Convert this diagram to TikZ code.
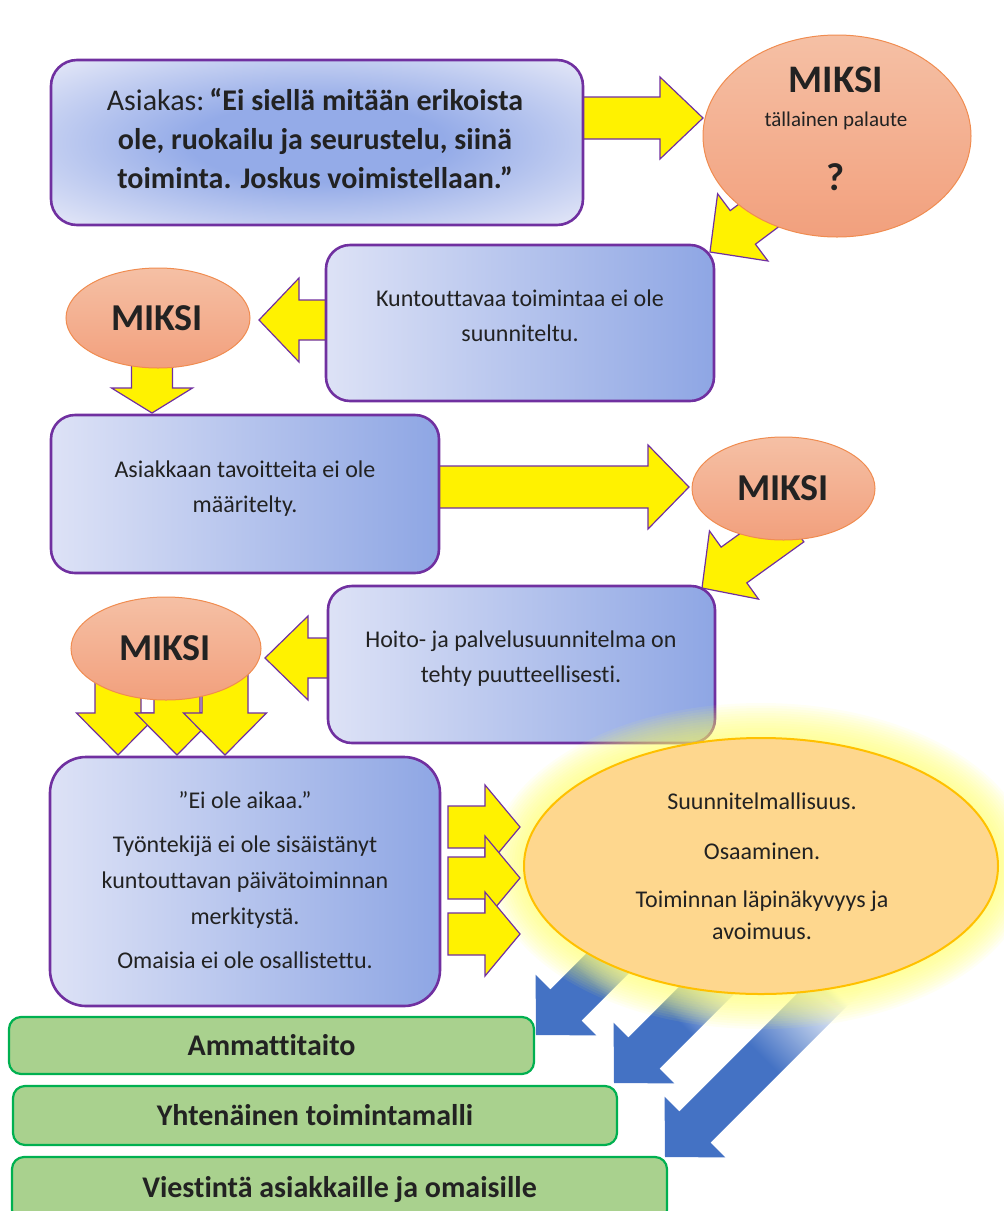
\documentclass[tikz,border=0pt]{standalone}
\usepackage{fontspec}
\setmainfont[Ligatures=NoCommon]{Carlito}
\usetikzlibrary{calc,shapes.geometric}

\definecolor{boxpurple}{HTML}{7030A0}
\definecolor{boxlight}{HTML}{DDE2F6}
\definecolor{boxdark}{HTML}{8EA6E4}
\definecolor{boxcore}{HTML}{94ABE8}
\definecolor{salmontop}{HTML}{F5C0A5}
\definecolor{salmonbot}{HTML}{F2A07D}
\definecolor{salmonline}{HTML}{F08C50}
\definecolor{goalfill}{HTML}{FED78E}
\definecolor{goalline}{HTML}{FFC000}
\definecolor{glowc}{HTML}{FFFF66}
\definecolor{arrowblue}{HTML}{4472C4}
\definecolor{greenfill}{HTML}{A9D18E}
\definecolor{greenline}{HTML}{00B050}
\definecolor{ink}{HTML}{222222}

% blue centre fading to the pale rim, for the quotation box
\pgfdeclareradialshading{quoteglow}{\pgfpointorigin}{%
  color(0bp)=(boxcore); color(12bp)=(boxcore); color(33bp)=(boxlight); color(50bp)=(boxlight)}

% block arrow: style, from, to, shaft half-width, head half-width, head length
\newcommand\blockarrow[6]{%
  \path[#1] ($(#2)!#4!90:(#3)$)
    -- ($(#3)!#6!(#2)!#4!-90:(#2)$)
    -- ($(#3)!#6!(#2)!#5!-90:(#2)$)
    -- (#3)
    -- ($(#3)!#6!(#2)!#5!90:(#2)$)
    -- ($(#3)!#6!(#2)!#4!90:(#2)$)
    -- ($(#2)!#4!-90:(#3)$) -- cycle;}

\begin{document}
\begin{tikzpicture}[x=0.5pt,y=-0.5pt,
  causebox/.style={draw=boxpurple, line width=1.3pt, rounded corners=12pt,
    left color=boxlight, right color=boxdark, inner sep=0pt},
  quotebox/.style={draw=boxpurple, line width=1.3pt, rounded corners=13pt,
    shading=quoteglow, inner sep=0pt},
  whybubble/.style={ellipse, draw=salmonline, line width=0.5pt,
    top color=salmontop, bottom color=salmonbot, inner sep=0pt},
  goalbubble/.style={ellipse, draw=goalline, line width=1pt, fill=goalfill, inner sep=0pt},
  resultbox/.style={draw=greenline, line width=1.1pt, rounded corners=6pt,
    fill=greenfill, inner sep=0pt, text=ink,
    font=\bfseries\fontsize{15}{18}\selectfont},
  yarrow/.style={fill=yellow, draw=boxpurple, line width=0.6pt, line join=miter},
  barrow/.style={top color=white, bottom color=arrowblue, middle color=arrowblue,
    shading angle=-45},
  txt/.style={align=center, text=ink, inner sep=0pt,
    font=\fontsize{12}{17.5}\selectfont},
  miksi/.style={text=ink, inner sep=0pt, font=\bfseries\fontsize{19}{20}\selectfont}]

\useasboundingbox (0,0) rectangle (1004,1211);
\clip (0,0) rectangle (1004,1211);

% end points of the block arrows
\coordinate (a1s) at (560,118);  \coordinate (a1t) at (703,118);
\coordinate (a2s) at (798,186);  \coordinate (a2t) at (710,252);
\coordinate (a3s) at (340,320);  \coordinate (a3t) at (259,320);
\coordinate (a4s) at (152,350);  \coordinate (a4t) at (152,413);
\coordinate (a5s) at (420,487);  \coordinate (a5t) at (689,487);
\coordinate (a6s) at (791,524);  \coordinate (a6t) at (702,588);
\coordinate (a7s) at (340,658);  \coordinate (a7t) at (265,658);
\coordinate (d1s) at (118,670);  \coordinate (d1t) at (118,755);
\coordinate (d2s) at (177,670);  \coordinate (d2t) at (177,755);
\coordinate (d3s) at (225,670);  \coordinate (d3t) at (225,755);
\coordinate (r1s) at (448,827);  \coordinate (r1t) at (520,827);
\coordinate (r2s) at (448,878);  \coordinate (r2t) at (520,878);
\coordinate (r3s) at (448,934);  \coordinate (r3t) at (520,934);
\coordinate (c1s) at (628,943);  \coordinate (c1t) at (536,1035);
\coordinate (c2s) at (725,972);  \coordinate (c2t) at (614,1083);
\coordinate (c3s) at (847,975);  \coordinate (c3t) at (665,1157);

% yellow arrows of the "why" chain
\blockarrow{yarrow}{a1s}{a1t}{10.5pt}{20.5pt}{21.5pt}
\blockarrow{yarrow}{a2s}{a2t}{10.5pt}{21pt}{20.5pt}
\blockarrow{yarrow}{a3s}{a3t}{10pt}{21pt}{20pt}
\blockarrow{yarrow}{a4s}{a4t}{10.25pt}{20.25pt}{12.5pt}
\blockarrow{yarrow}{a5s}{a5t}{10.5pt}{21pt}{20.5pt}
\blockarrow{yarrow}{a6s}{a6t}{11pt}{21pt}{19.7pt}
\blockarrow{yarrow}{a7s}{a7t}{10pt}{21pt}{21.5pt}
\blockarrow{yarrow}{d1s}{d1t}{11.5pt}{20.75pt}{21pt}
\blockarrow{yarrow}{d2s}{d2t}{11.5pt}{20.75pt}{21pt}
\blockarrow{yarrow}{d3s}{d3t}{11.5pt}{20.75pt}{21pt}

% cause boxes
\node[quotebox, minimum width=266pt, minimum height=82.5pt] (q) at (317,142.5) {};
\node[causebox, minimum width=194pt, minimum height=78pt] (b2) at (520,323) {};
\node[causebox, minimum width=194pt, minimum height=79pt] (b3) at (245,494) {};
\node[causebox, minimum width=193.5pt, minimum height=78.5pt] (b4) at (521.5,664.5) {};
\node[causebox, rounded corners=18pt, minimum width=195pt, minimum height=124.5pt] (b5) at (245,881.5) {};

% "why" bubbles
\node[whybubble, minimum width=134pt, minimum height=101pt] (m1) at (837,136) {};
\node[whybubble, minimum width=92pt, minimum height=50pt] (m2) at (158,318) {};
\node[whybubble, minimum width=91.5pt, minimum height=51.5pt] (m3) at (783.5,488.5) {};
\node[whybubble, minimum width=95pt, minimum height=51.5pt] (m4) at (166,648.5) {};

% result boxes
\node[resultbox, minimum width=262.5pt, minimum height=28.5pt] (g1) at (271.5,1045.5) {Ammattitaito};
\node[resultbox, minimum width=302pt, minimum height=29.5pt] (g2) at (315,1115.5) {Yhtenäinen toimintamalli};
\node[resultbox, minimum width=327.5pt, minimum height=32.5pt] (g3) at (339.5,1189.5) {Viestintä asiakkaille ja omaisille};

% blue arrows from the goal to the results
\blockarrow{barrow}{c1s}{c1t}{11pt}{21.5pt}{21.2pt}
\blockarrow{barrow}{c2s}{c2t}{11pt}{21.5pt}{21.2pt}
\blockarrow{barrow}{c3s}{c3t}{11pt}{21.5pt}{21.2pt}

% soft glow round the goal
\foreach \k in {1,...,14}
  \fill[glowc, opacity=0.07] (761,866) ellipse [x radius=118.5pt+\k*1.25pt, y radius=64pt+\k*1.25pt];

% arrows into the goal
\blockarrow{yarrow}{r1s}{r1t}{10.5pt}{21pt}{17.5pt}
\blockarrow{yarrow}{r2s}{r2t}{10.5pt}{21pt}{17.5pt}
\blockarrow{yarrow}{r3s}{r3t}{10.5pt}{21pt}{17.5pt}

\node[goalbubble, minimum width=237pt, minimum height=128pt] (goal) at (761,866) {};

% texts
\node[txt, font=\fontsize{15}{19.5}\selectfont] (qt) at (315,139)
  {Asiakas:\,\textbf{“Ei siellä mitään erikoista}\\
   \textbf{ole, ruokailu ja seurustelu, siinä}\\
   \textbf{toiminta. Joskus voimistellaan.”}};
\node[miksi, font=\bfseries\fontsize{19.5}{20}\selectfont] (m1a) at (836,80) {MIKSI};
\node[txt, font=\fontsize{10.5}{12}\selectfont] (m1b) at (836,121) {tällainen palaute};
\node[miksi, font=\bfseries\fontsize{19.5}{20}\selectfont] (m1c) at (836,177) {?};
\node[txt] (b2t) at (520,316) {Kuntouttavaa toimintaa ei ole\\suunniteltu.};
\node[miksi] (m2t) at (157,318) {MIKSI};
\node[txt] (b3t) at (245,489) {Asiakkaan tavoitteita ei ole\\määritelty.};
\node[miksi] (m3t) at (783,488) {MIKSI};
\node[txt] (b4t) at (521,659) {Hoito- ja palvelusuunnitelma on\\tehty puutteellisesti.};
\node[miksi] (m4t) at (165,648) {MIKSI};
\node[txt, font=\fontsize{12}{18}\selectfont] (b5t) at (245,880)
  {”Ei ole aikaa.”\\[4pt]
   Työntekijä ei ole sisäistänyt\\
   kuntouttavan päivätoiminnan\\
   merkitystä.\\[4pt]
   Omaisia ei ole osallistettu.};
\node[txt, font=\fontsize{12}{16}\selectfont] (goalt) at (762,866)
  {Suunnitelmallisuus.\\[9pt]
   Osaaminen.\\[8pt]
   Toiminnan läpinäkyvyys ja\\
   avoimuus.};
\end{tikzpicture}
\end{document}
